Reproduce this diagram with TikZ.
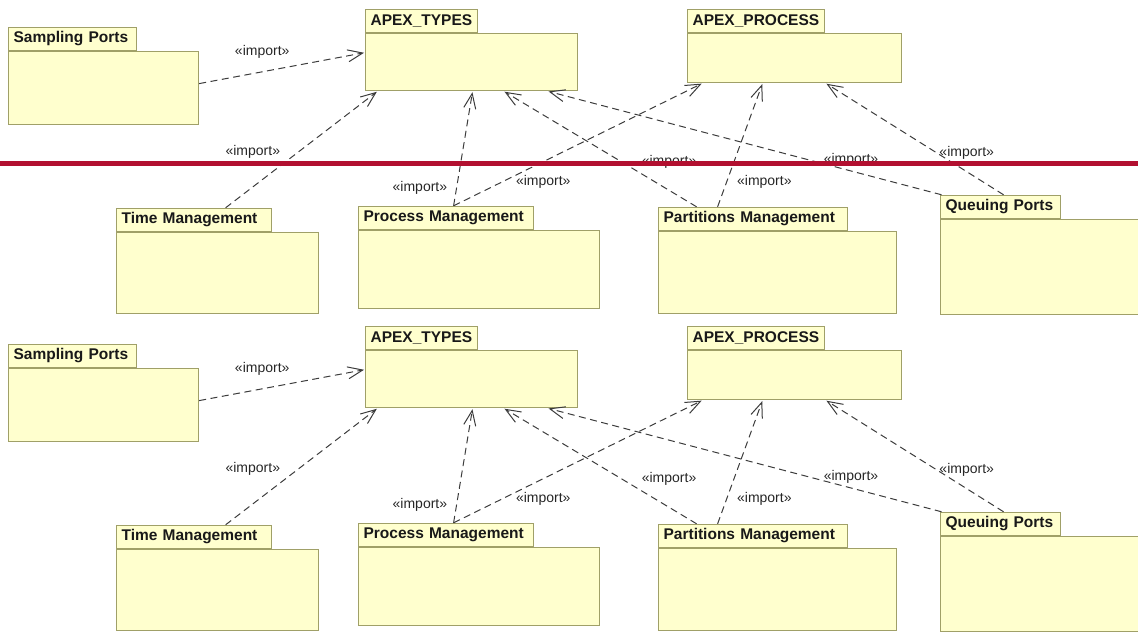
\documentclass[tikz,border=0pt]{standalone}
\usepackage{fontspec}
\setmainfont{Liberation Sans}
\usetikzlibrary{positioning,arrows.meta}

\definecolor{pkgfill}{RGB}{255,255,206}
\definecolor{pkgline}{RGB}{160,160,104}
\definecolor{depline}{RGB}{60,60,60}
\definecolor{cutline}{RGB}{178,16,48}

\begin{document}
\begin{tikzpicture}[
    x=1pt, y=-1pt,
    pkgbody/.style={rectangle, draw=pkgline, fill=pkgfill, line width=1.2pt, anchor=north west, inner sep=0pt},
    pkgtab/.style={rectangle, draw=pkgline, fill=pkgfill, line width=1.2pt, font=\bfseries\fontsize{15.5}{15.5}\selectfont, text=black!90, minimum height=23pt, inner xsep=5pt, inner ysep=0pt, align=left, text width=#1-10pt},
    dep/.style={draw=depline, line width=1pt, dash pattern=on 7pt off 4.5pt, -{Straight Barb[length=15pt,width=12pt,line width=1pt]}, shorten >=1pt},
    lbl/.style={font=\fontsize{14}{14}\selectfont, text=black!85, inner sep=0pt}
]
\useasboundingbox (0,0) rectangle (1138,639);
\clip (0,0) rectangle (1138,639);

\foreach \dy in {0,317} {
\begin{scope}[shift={(0,\dy)}]
% packages
\node[pkgbody, minimum width=190pt, minimum height=73pt] (sampling) at (8,51) {};
\node[pkgtab=128pt, above right=0pt and 0pt of sampling.north west] (sampling-tab) {Sampling Ports};
\node[pkgbody, minimum width=212pt, minimum height=57pt] (types) at (365,33) {};
\node[pkgtab=112pt, above right=0pt and 0pt of types.north west] (types-tab) {APEX\_TYPES};
\node[pkgbody, minimum width=214pt, minimum height=49pt] (process) at (687,33) {};
\node[pkgtab=137pt, above right=0pt and 0pt of process.north west] (process-tab) {APEX\_PROCESS};
\node[pkgbody, minimum width=202pt, minimum height=81pt] (timemgmt) at (116,232) {};
\node[pkgtab=155pt, above right=0pt and 0pt of timemgmt.north west] (timemgmt-tab) {Time Management};
\node[pkgbody, minimum width=241pt, minimum height=78pt] (procmgmt) at (358,230) {};
\node[pkgtab=175pt, above right=0pt and 0pt of procmgmt.north west] (procmgmt-tab) {Process Management};
\node[pkgbody, minimum width=238pt, minimum height=82pt] (partmgmt) at (658,231) {};
\node[pkgtab=189pt, above right=0pt and 0pt of partmgmt.north west] (partmgmt-tab) {Partitions Management};
\node[pkgbody, minimum width=220pt, minimum height=95pt] (queuing) at (940,219) {};
\node[pkgtab=120pt, above right=0pt and 0pt of queuing.north west] (queuing-tab) {Queuing Ports};

% imports
\draw[dep] ([yshift=4.5pt]sampling.east) -- ([yshift=9.5pt]types.west) node[lbl, pos=0.38, above=13pt] {«import»};
\draw[dep] ([xshift=31.5pt]timemgmt-tab.north) -- ([xshift=-94pt]types.south) node[lbl, pos=0.48, left=18pt] {«import»};
\draw[dep] ([xshift=7.5pt]procmgmt-tab.north) -- ([xshift=1pt]types.south) node[lbl, pos=0.16, left=9pt] {«import»};
\draw[dep] ([xshift=7.5pt]procmgmt-tab.north) -- ([xshift=-92pt]process.south) node[lbl, pos=0.36, below=13pt] {«import»};
\draw[dep] ([xshift=-56.5pt]partmgmt-tab.north) -- ([xshift=32pt]types.south) node[lbl, pos=0.39, right=20pt] {«import»};
\draw[dep] ([xshift=-35.5pt]partmgmt-tab.north) -- ([xshift=-32pt]process.south) node[lbl, pos=0.2, right=10pt] {«import»};
\draw[dep] ([xshift=-59pt]queuing-tab.north) -- ([xshift=76pt]types.south) node[lbl, pos=0.23, above=4pt] {«import»};
\draw[dep] ([xshift=3pt]queuing-tab.north) -- ([xshift=31pt]process.south) node[lbl, pos=0.38, right=3pt] {«import»};
\end{scope}
}

% cut line over the upper copy
\draw[cutline, line width=4.5pt] (0,163.5) -- (1138,163.5);
\end{tikzpicture}
\end{document}
